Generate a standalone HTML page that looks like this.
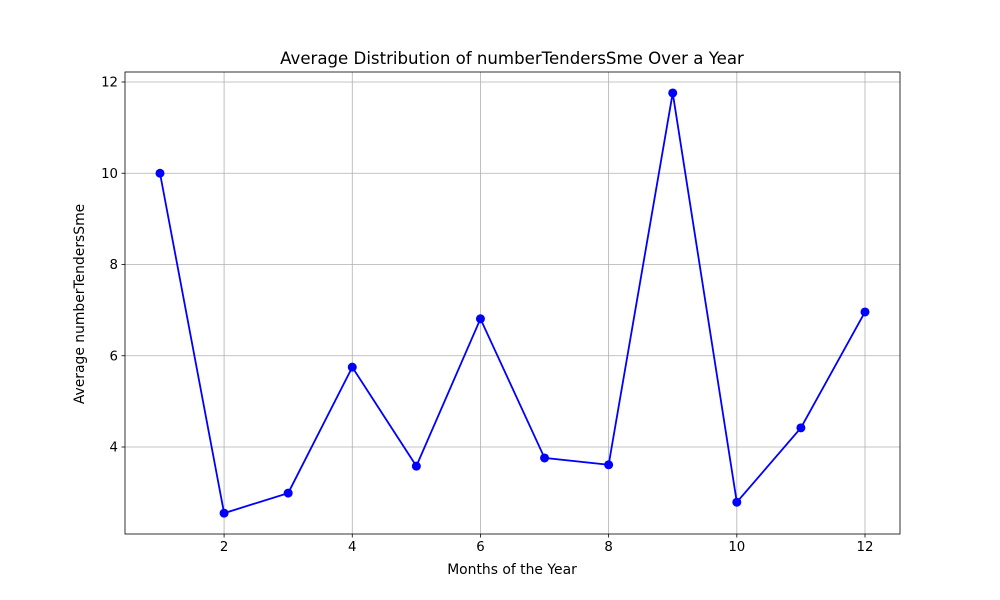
<!DOCTYPE html>
<html><head><meta charset="utf-8"><style>body{margin:0;background:#fff}svg{display:block;font-family:"DejaVu Sans","Liberation Sans",sans-serif}</style></head>
<body>
<svg id="chart" width="1000" height="600"></svg>
<script>
const months = [1,2,3,4,5,6,7,8,9,10,11,12];
const values = [10.0,2.55,2.99,5.75,3.58,6.81,3.76,3.61,11.76,2.79,4.42,6.96];
const xTicks = [2,4,6,8,10,12];
const yTicks = [4,6,8,10,12];
const L=125,R=900,T=72,B=534;
const X=v=>160+(v-1)*(865-160)/11;
const Y=v=>82+(12-v)*45.625;
const svg=document.getElementById('chart');
const NS='http://www.w3.org/2000/svg';
function mk(tag,attrs,parent){const e=document.createElementNS(NS,tag);for(const k in attrs)e.setAttribute(k,attrs[k]);(parent||svg).appendChild(e);return e;}
const grid=mk('g',{});


xTicks.forEach(t=>{
  mk('line',{x1:X(t),x2:X(t),y1:T,y2:B,stroke:'#b0b0b0','stroke-width':0.8},grid);
  mk('line',{x1:X(t),x2:X(t),y1:B,y2:B+3.5,stroke:'#000','stroke-width':0.8});
  const tx=mk('text',{x:X(t),y:B+17,'text-anchor':'middle','font-size':13.3});
  tx.textContent=t;
  
  
});
yTicks.forEach(t=>{
  mk('line',{x1:L,x2:R,y1:Y(t),y2:Y(t),stroke:'#b0b0b0','stroke-width':0.8},grid);
  mk('line',{x1:L-3.5,x2:L,y1:Y(t),y2:Y(t),stroke:'#000','stroke-width':0.8});
  const tx=mk('text',{x:L-7,y:Y(t)+4.5,'text-anchor':'end','font-size':13.3});
  tx.textContent=t;
  
  
});
const line=mk('polyline',{points:months.map((m,i)=>X(m)+','+Y(values[i])).join(' '),fill:'none',stroke:'#0000ff','stroke-width':1.8});


months.forEach((m,i)=>{
  const c=mk('circle',{cx:X(m),cy:Y(values[i]),r:4.5,fill:'#0000ff'});
  
  
});
const frame=mk('rect',{x:L,y:T,width:R-L,height:B-T,fill:'none',stroke:'#000','stroke-width':0.8});


const title=mk('text',{x:512,y:64,'text-anchor':'middle','font-size':16.6});
title.textContent='Average Distribution of numberTendersSme Over a Year';


const xl=mk('text',{x:512,y:574,'text-anchor':'middle','font-size':13.9});
xl.textContent='Months of the Year';


const yl=mk('text',{x:84,y:304,'text-anchor':'middle','font-size':13.9,transform:'rotate(-90 84 304)'});
yl.textContent='Average numberTendersSme';


</script>
</body></html>
